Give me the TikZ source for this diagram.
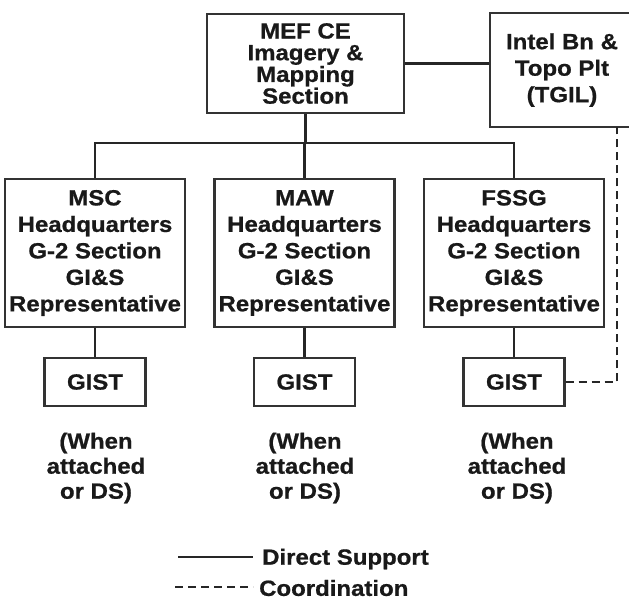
\documentclass[tikz,border=0pt]{standalone}
\usepackage{fontspec}
\newfontfamily\lab{Liberation Sans}[FakeStretch=1.09,FakeBold=0.8]
\begin{document}
\begin{tikzpicture}[x=1pt,y=-1pt,
  box/.style={draw=black!80, line width=2.4pt, inner sep=0pt, align=center, text=black!90},
  txt/.style={font=\lab\bfseries\fontsize{22}{26.5}\selectfont},
  conn/.style={draw=black!85, line width=2.6pt},
  coord/.style={draw=black!85, line width=2.4pt, dash pattern=on 8pt off 5pt}]
\useasboundingbox (0,0) rectangle (629,599);
\fill[white] (0,0) rectangle (629,599);
% top boxes
\node[box, minimum width=197pt, minimum height=99pt, font=\lab\bfseries\fontsize{22}{21.7}\selectfont] (mef) at (305.5,63.5) {MEF CE\\Imagery \&\\Mapping\\Section};
\node[box, txt, minimum width=144pt, minimum height=114pt] (intel) at (562,70) {Intel Bn \&\\Topo Plt\\(TGIL)};
% second row
\node[box, txt, minimum width=180pt, minimum height=148pt] (msc) at (95,253) {MSC\\Headquarters\\G-2 Section\\GI\&S\\Representative};
\node[box, txt, minimum width=180pt, minimum height=148pt] (maw) at (304.5,253) {MAW\\Headquarters\\G-2 Section\\GI\&S\\Representative};
\node[box, txt, minimum width=180pt, minimum height=148pt] (fssg) at (514,253) {FSSG\\Headquarters\\G-2 Section\\GI\&S\\Representative};
% GIST boxes
\node[box, txt, minimum width=101pt, minimum height=48pt] (g1) at (95,382) {GIST};
\node[box, txt, minimum width=101pt, minimum height=48pt] (g2) at (304.5,382) {GIST};
\node[box, txt, minimum width=101pt, minimum height=48pt] (g3) at (514,382) {GIST};
% notes
\node[txt, align=center, font=\lab\bfseries\fontsize{22}{25}\selectfont, text=black!90] (n1) at (96,468) {(When\\attached\\or DS)};
\node[txt, align=center, font=\lab\bfseries\fontsize{22}{25}\selectfont, text=black!90] (n2) at (305,468) {(When\\attached\\or DS)};
\node[txt, align=center, font=\lab\bfseries\fontsize{22}{25}\selectfont, text=black!90] (n3) at (517,468) {(When\\attached\\or DS)};
% connectors
\coordinate (bj) at (305.5,143);
\draw[conn] (mef.south) -- (bj);
\draw[conn] (msc.north) |- (bj) -| (fssg.north);
\draw[conn] (maw.north) -- (maw.north |- bj);
\draw[conn] (mef.east) -- (mef.east -| intel.west);
\draw[conn] (msc.south) -- (g1.north);
\draw[conn] (maw.south) -- (g2.north);
\draw[conn] (fssg.south) -- (g3.north);
\coordinate (dc) at (617,127);
\draw[coord] (g3.east) -| (dc);
% legend
\coordinate (la1) at (178,557);
\coordinate (la2) at (253,557);
\coordinate (lb1) at (175,587);
\coordinate (lb2) at (253,587);
\draw[conn] (la1) -- (la2);
\draw[coord] (lb1) -- (lb2);
\node[txt, anchor=west, inner sep=0pt, text=black!90] (l1) at (262,559) {Direct Support};
\node[txt, anchor=west, inner sep=0pt, text=black!90] (l2) at (259,588) {Coordination};
\end{tikzpicture}
\end{document}
